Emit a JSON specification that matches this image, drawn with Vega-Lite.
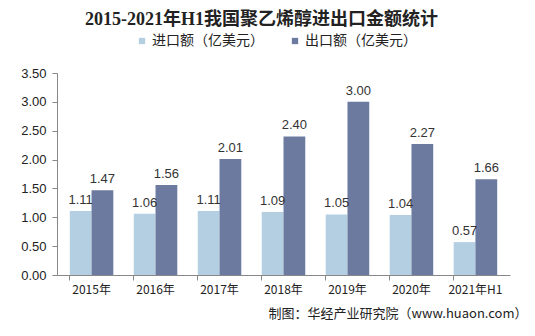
{
  "$schema": "https://vega.github.io/schema/vega-lite/v6.json",
  "width": 453,
  "height": 202,
  "autosize": {"type": "none"},
  "padding": {"left": 57, "top": 73, "right": 25, "bottom": 61},
  "background": "white",
  "title": {
    "text": "2015-2021年H1我国聚乙烯醇进出口金额统计",
    "font": "Liberation Serif, Noto Sans CJK SC",
    "fontSize": 18,
    "fontWeight": "bold",
    "color": "#222222",
    "anchor": "middle",
    "dx": -22,
    "offset": 5
  },
  "data": {
    "values": [
      {"year": "2015年", "series": "进口额（亿美元）", "value": 1.11},
      {"year": "2015年", "series": "出口额（亿美元）", "value": 1.47},
      {"year": "2016年", "series": "进口额（亿美元）", "value": 1.06},
      {"year": "2016年", "series": "出口额（亿美元）", "value": 1.56},
      {"year": "2017年", "series": "进口额（亿美元）", "value": 1.11},
      {"year": "2017年", "series": "出口额（亿美元）", "value": 2.01},
      {"year": "2018年", "series": "进口额（亿美元）", "value": 1.09},
      {"year": "2018年", "series": "出口额（亿美元）", "value": 2.40},
      {"year": "2019年", "series": "进口额（亿美元）", "value": 1.05},
      {"year": "2019年", "series": "出口额（亿美元）", "value": 3.00},
      {"year": "2020年", "series": "进口额（亿美元）", "value": 1.04},
      {"year": "2020年", "series": "出口额（亿美元）", "value": 2.27},
      {"year": "2021年H1", "series": "进口额（亿美元）", "value": 0.57},
      {"year": "2021年H1", "series": "出口额（亿美元）", "value": 1.66}
    ]
  },
  "encoding": {
    "x": {
      "field": "year",
      "type": "nominal",
      "sort": null,
      "scale": {"paddingInner": 0.32, "paddingOuter": 0.2},
      "axis": {
        "title": "制图：华经产业研究院（www.huaon.com）",
        "titleFont": "Noto Sans CJK SC",
        "titleFontSize": 13,
        "titleFontWeight": "normal",
        "titleColor": "#222222",
        "titleAnchor": "end",
        "titleAlign": "right",
        "titleX": 470,
        "titlePadding": 12,
        "labelAngle": 0,
        "labelFont": "Noto Sans CJK SC",
        "labelFontSize": 12,
        "labelColor": "#222222",
        "labelPadding": 4,
        "bandPosition": 0,
        "domainColor": "#888888",
        "tickColor": "#888888",
        "tickSize": 5,
        "ticks": true
      }
    },
    "xOffset": {"field": "series", "type": "nominal", "sort": ["进口额（亿美元）", "出口额（亿美元）"]},
    "y": {
      "field": "value",
      "type": "quantitative",
      "scale": {"domain": [0, 3.5]},
      "axis": {
        "title": null,
        "values": [0, 0.5, 1, 1.5, 2, 2.5, 3, 3.5],
        "format": ".2f",
        "grid": false,
        "labelFont": "Liberation Sans",
        "labelFontSize": 13,
        "labelColor": "#222222",
        "labelPadding": 6,
        "domainColor": "#888888",
        "tickColor": "#888888",
        "tickSize": 5
      }
    }
  },
  "layer": [
    {
      "mark": {"type": "bar"},
      "encoding": {
        "color": {
          "field": "series",
          "type": "nominal",
          "sort": ["进口额（亿美元）", "出口额（亿美元）"],
          "scale": {"domain": ["进口额（亿美元）", "出口额（亿美元）"], "range": ["#b5cfe2", "#6c7aa0"]},
          "legend": {
            "title": null,
            "orient": "none",
            "legendX": 78,
            "legendY": -39,
            "direction": "horizontal",
            "symbolType": "square",
            "symbolSize": 40,
            "labelOffset": 3,
            "labelFont": "Noto Sans CJK SC",
            "labelFontSize": 14,
            "labelColor": "#222222",
            "columnPadding": 24
          }
        }
      }
    },
    {
      "mark": {"type": "text", "baseline": "bottom", "dy": -4, "font": "Liberation Sans", "fontSize": 13, "color": "#333333"},
      "encoding": {
        "text": {"field": "value", "type": "quantitative", "format": ".2f"},
        "fontWeight": {
          "field": "series",
          "type": "nominal",
          "scale": {"domain": ["进口额（亿美元）", "出口额（亿美元）"], "range": ["normal", "bold"]},
          "legend": null
        }
      }
    }
  ],
  "config": {"view": {"stroke": null}}
}
